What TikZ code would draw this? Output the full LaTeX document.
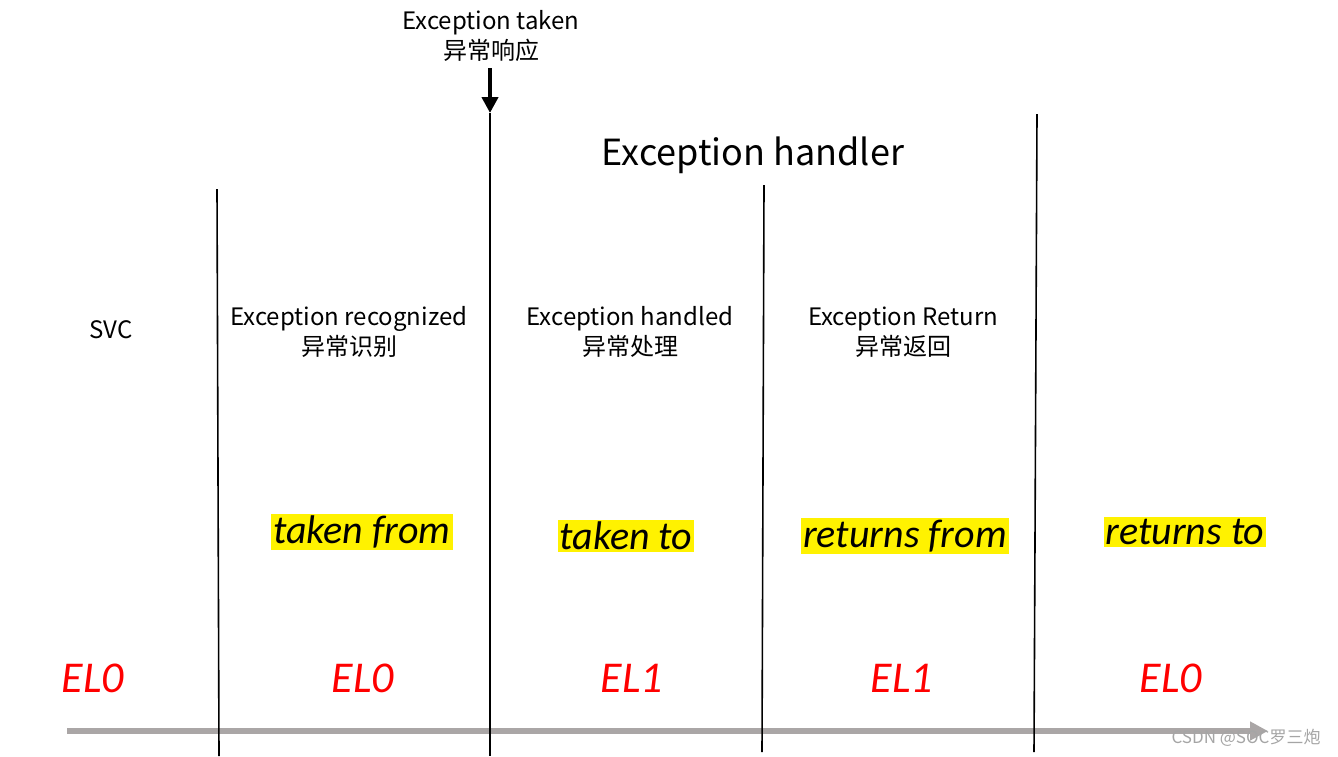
\documentclass[tikz,border=0pt]{standalone}
\usepackage{fontspec}
\setmainfont{Carlito}
\newfontfamily\cjk{Noto Sans CJK SC}
\usepackage{tikz}
\usetikzlibrary{arrows.meta,positioning,calc}

\definecolor{timegray}{RGB}{170,166,166}
\definecolor{markgray}{RGB}{165,165,165}

\tikzset{
  phase/.style={align=center, font=\cjk\fontsize{24}{30}\selectfont, inner sep=0pt},
  hilite/.style={fill=yellow, inner sep=2pt, font=\fontsize{40}{40}\selectfont\itshape},
  level/.style={text=red, font=\fontsize{44}{44}\selectfont\itshape, inner sep=0pt},
  divider/.style={line width=1.6pt}
}

\begin{document}
\begin{tikzpicture}[x=1pt, y=-1pt]
\useasboundingbox (0,0) rectangle (1338,756);
% divider end points
\coordinate (d1t) at (217,189);  \coordinate (d1b) at (219,756);
\coordinate (d2t) at (490,113);  \coordinate (d2b) at (490,756);
\coordinate (d3t) at (764,185);  \coordinate (d3b) at (762,752);
\coordinate (d4t) at (1037,114); \coordinate (d4b) at (1034,752);
% time axis
\coordinate (tstart) at (67,731);
\coordinate (tend) at (1268,731);
\draw[timegray, line width=6pt, -{Triangle[length=18pt,width=18pt]}] (tstart) -- (tend);
% vertical dividers
\draw[divider] (d1t) -- (d1b);
\draw[divider] (d2t) -- (d2b);
\draw[divider] (d3t) -- (d3b);
\draw[divider] (d4t) -- (d4b);
% exception taken marker
\node[phase] (taken) at (491,36) {Exception taken\\异常响应};
\coordinate (arrtop) at (490,68);
\draw[line width=4pt, -{Triangle[length=16pt,width=16pt]}] (arrtop) -- (d2t);
% handler title
\node[font=\cjk\fontsize{36}{36}\selectfont, inner sep=0pt] (handler) at (753,155) {Exception handler};
% phase labels
\node[phase] (svc) at (111,330) {SVC};
\node[phase] (recog) at (349,332) {Exception recognized\\异常识别};
\node[phase] (handled) at (630,332) {Exception handled\\异常处理};
\node[phase] (ret) at (903,332) {Exception Return\\异常返回};
% highlighted words
\node[hilite] (tfrom) at (362,532) {taken from};
\node[hilite] (tto) at (626,536) {taken to};
\node[hilite] (rfrom) at (905,536) {returns from};
\node[hilite] (rto) at (1185,532) {returns to};
% exception levels
\node[level] (el0a) at (93,678) {EL0};
\node[level] (el0b) at (363,678) {EL0};
\node[level] (el1a) at (632,678) {EL1};
\node[level] (el1b) at (902,678) {EL1};
\node[level] (el0c) at (1171,678) {EL0};
% watermark
\node[markgray, font=\cjk\fontsize{17}{17}\selectfont, inner sep=0pt] (mark) at (1246,738) {CSDN @SOC罗三炮};
\end{tikzpicture}
\end{document}
